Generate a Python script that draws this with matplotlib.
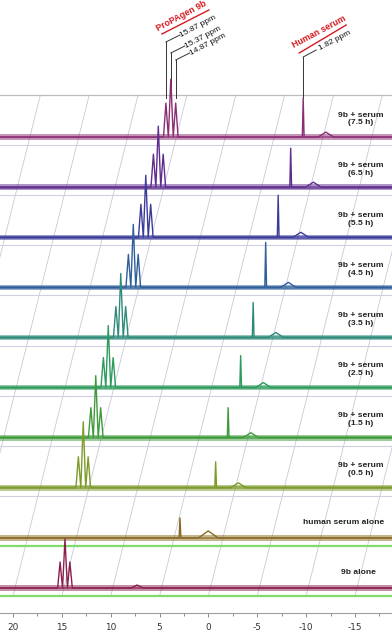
import numpy as np
import matplotlib.pyplot as plt

plt.rcParams['font.family'] = ['Liberation Sans', 'DejaVu Sans']
plt.rcParams['axes.unicode_minus'] = False

# spectra, bottom to top
trace_labels = ['9b alone', 'human serum alone',
                '9b + serum\n(0.5 h)', '9b + serum\n(1.5 h)', '9b + serum\n(2.5 h)',
                '9b + serum\n(3.5 h)', '9b + serum\n(4.5 h)', '9b + serum\n(5.5 h)',
                '9b + serum\n(6.5 h)', '9b + serum\n(7.5 h)']
trace_colors = ['#8b1f4f', '#8b6a22', '#7d9a2a', '#3e9a3a', '#2e9a5c',
                '#2e8b7a', '#2f5f9a', '#3b3b99', '#5e2d8e', '#8a2d72']

triplet_alone = [15.18, 14.68, 14.18]
triplet_mix = [15.87, 15.37, 14.87]
serum_peak_alone = 4.19
serum_peak_mix = 1.82
hump_alone = [7.3, 1.3]
hump_mix = -0.5

center_h = [49, 0, 66, 62, 62, 64, 63, 62, 61, 58]
side_h = [26, 0, 31, 30, 30, 31, 33, 33, 33, 34]
serum_h = [0, 20, 26, 30, 32, 35, 45, 42, 39, 39]
hump_h = [3, 7, 5, 5, 5, 5, 5, 5, 5, 5]

shift_step = 1.28   # ppm offset between stacked traces
ticks = [20, 15, 10, 5, 0, -5, -10, -15]
tick_labels = ['20', '15', '10', '5', '0', '-5', '-10', '-15']

# layout
gap = 50.1
base0 = 25
top_line = 518
ppm_px = 9.771

fig = plt.figure(figsize=(3.92, 6.33), dpi=100)
ax = fig.add_axes([0, 20 / 633, 1, 613 / 633])
ax.set_xlim(20 + 13 / ppm_px, 20 - 379 / ppm_px)
ax.set_ylim(0, 613)
for s in ['top', 'left', 'right']:
    ax.spines[s].set_visible(False)
ax.spines['bottom'].set_color('#a0a0a0')
ax.spines['bottom'].set_linewidth(0.8)
ax.set_yticks([])
ax.set_xticks(ticks)
ax.set_xticklabels(tick_labels)
ax.set_xticks(np.array(ticks) - 2.5, minor=True)
ax.tick_params(axis='x', which='major', length=3, width=0.7, color='#888888',
               pad=4, labelsize=6.4, labelcolor='#333333')
ax.tick_params(axis='x', which='minor', length=2.5, width=0.7, color='#888888')
for lab in ax.get_xticklabels():
    lab.set_family('DejaVu Sans')

# slanted grid
n_tr = len(trace_labels)
y_lo = base0 - 8
slant = (top_line - y_lo) / gap * shift_step
for v in range(35, -25, -5):
    ax.plot([v, v - slant], [y_lo, top_line], color='#c8c8da', lw=0.6, zorder=1)

ax.axhline(top_line, color='#bdbdbd', lw=0.9, zorder=2)

xa, xb = 23, -21
for i in range(n_tr):
    base = base0 + i * gap
    shift = i * shift_step
    c = trace_colors[i]
    if i < 2:
        ax.axhline(base - 8, color='#7fdc6a', lw=1.6, zorder=2)
    else:
        ax.axhline(base - 8, color='#cfcfe6', lw=0.8, zorder=2)

    peaks = []
    if i == 0:
        trip = triplet_alone
        peaks.append((hump_alone[0], hump_h[i], 0.6))
    elif i == 1:
        trip = None
        peaks.append((serum_peak_alone, serum_h[i], 0.09))
        peaks.append((hump_alone[1], hump_h[i], 1.0))
    else:
        trip = triplet_mix
        peaks.append((serum_peak_mix, serum_h[i], 0.09))
        peaks.append((hump_mix, hump_h[i], 0.8))
    if trip is not None:
        peaks.append((trip[0], side_h[i], 0.25))
        peaks.append((trip[1], center_h[i], 0.25))
        peaks.append((trip[2], side_h[i], 0.25))
    peaks.sort(key=lambda p: -p[0])

    xs, ys = [xa], [0]
    for p, h, w in peaks:
        xs += [p - shift + w, p - shift, p - shift - w]
        ys += [0, h, 0]
    xs.append(xb)
    ys.append(0)
    xs = np.array(xs)
    ys = np.array(ys) + base

    z = 30 - i
    ax.fill_between([xa, xb], base - 2.8, base + 2.8, color=c, alpha=0.5,
                    lw=0, zorder=z)
    ax.fill_between([xa, xb], base - 1.4, base + 1.4, color=c, alpha=0.6,
                    lw=0, zorder=z)
    ax.plot(xs, ys, color=c, lw=1.0, zorder=z)

    lx = 20 - (361 - 13) / ppm_px
    if '\n' in trace_labels[i]:
        ax.text(lx, base + 18, trace_labels[i], ha='center', va='center',
                fontsize=6.1, fontweight='bold', color='#222222', linespacing=1.15,
                zorder=40)
    elif i == 1:
        ax.text(20 - (344 - 13) / ppm_px, base + 15, trace_labels[i], ha='center',
                va='center', fontsize=6.1, fontweight='bold', color='#222222',
                zorder=40)
    else:
        ax.text(lx + 0.3, base + 16, trace_labels[i], ha='center', va='center',
                fontsize=6.1, fontweight='bold', color='#222222', zorder=40)

# peak annotations on the top trace
top_shift = (n_tr - 1) * shift_step
ang = 28
red = '#d7191f'
lead_y = [571, 560, 553]
for p, ly in zip(triplet_mix, lead_y):
    xp = p - top_shift
    ax.plot([xp, xp], [ly, top_line - 3], color='#333333', lw=0.7, zorder=5,
            clip_on=False)
    ax.plot([xp, xp - 14 / ppm_px], [ly, ly + 7], color='#333333', lw=0.7,
            clip_on=False)
    ax.text(xp - 15.5 / ppm_px, ly + 5, f'{p:.2f} ppm', rotation=ang,
            rotation_mode='anchor', ha='left', va='baseline', fontsize=6.0,
            color='#111111')
xp0 = triplet_mix[0] - top_shift
ax.plot([xp0 + 4 / ppm_px, xp0 - 43 / ppm_px], [579, 603], color=red, lw=1.0,
        clip_on=False)
ax.text(xp0 + 8 / ppm_px, 582, 'ProPAgen 9b', rotation=ang, rotation_mode='anchor',
        ha='left', va='baseline', fontsize=6.4, fontweight='bold', color=red)

xs0 = serum_peak_mix - top_shift
ax.plot([xs0, xs0], [556, top_line - 3], color='#333333', lw=0.7, clip_on=False)
ax.plot([xs0, xs0 - 13 / ppm_px], [556, 563], color='#333333', lw=0.7,
        clip_on=False)
ax.text(xs0 - 17 / ppm_px, 563, f'{serum_peak_mix:.2f} ppm', rotation=ang,
        rotation_mode='anchor', ha='left', va='baseline', fontsize=6.0,
        color='#111111')
ax.plot([xs0 + 4 / ppm_px, xs0 - 43 / ppm_px], [560, 588], color=red, lw=1.0,
        clip_on=False)
ax.text(xs0 + 9 / ppm_px, 565, 'Human serum', rotation=ang, rotation_mode='anchor',
        ha='left', va='baseline', fontsize=6.4, fontweight='bold', color=red)

fig.savefig('out.png', dpi=100)
